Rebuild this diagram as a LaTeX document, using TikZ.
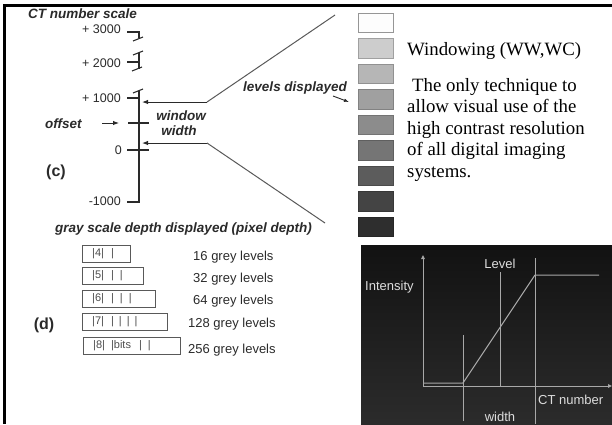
\documentclass[tikz,border=0pt]{standalone}
\usepackage{fontspec}
\setmainfont{Liberation Serif}
\setsansfont{Liberation Sans}
\usetikzlibrary{arrows.meta}
\definecolor{scan}{HTML}{2A2A2A}
\definecolor{glin}{HTML}{A8A8A8}
\definecolor{gtxt}{HTML}{DDDDDD}
\begin{document}
\begin{tikzpicture}[x=1pt,y=-1pt,
  bi/.style={font=\sffamily\bfseries\itshape\fontsize{13.5}{16}\selectfont, inner sep=0pt, text=scan},
  num/.style={font=\sffamily\fontsize{12.5}{14}\selectfont, inner sep=0pt, text=scan},
  plabel/.style={font=\sffamily\bfseries\fontsize{16}{18}\selectfont, inner sep=0pt, text=scan},
  lvl/.style={font=\sffamily\fontsize{13}{15}\selectfont, inner sep=0pt, text=scan, anchor=west},
  bits/.style={font=\sffamily\fontsize{11}{13}\selectfont, inner sep=0pt, text=black!70, anchor=west},
  pbox/.style={draw=black!65, line width=1pt, minimum height=17pt, inner sep=0pt, anchor=north west},
  sc/.style={draw=scan, line width=1.1pt},
  arr/.style={draw=scan, line width=1pt, -{Latex[length=6pt,width=4.5pt]}},
  ln/.style={draw=black!65, line width=1pt},
  serif/.style={font=\rmfamily\fontsize{18.8}{21}\selectfont, inner sep=0pt, anchor=base west},
  gl/.style={draw=glin, line width=1pt},
  gt/.style={font=\sffamily\fontsize{13}{15}\selectfont, inner sep=0pt, text=gtxt},
  gbox/.style={minimum width=35pt, minimum height=19.5pt, inner sep=0pt, line width=1pt}
]
\useasboundingbox (0,0) rectangle (612,424);
\draw[line width=3pt] (3,5.5) -- (612,5.5);
\draw[line width=3pt] (4.5,4) -- (4.5,424);

% ---- (c) CT number scale
\node[bi, anchor=base west] (title) at (28,18) {CT number scale};
\node[num, anchor=base east] (n3) at (121,33) {+ 3000};
\node[num, anchor=base east] (n2) at (121,67) {+ 2000};
\node[num, anchor=base east] (n1) at (121,102) {+ 1000};
\node[num, anchor=base east] (n0) at (122,154) {0};
\node[num, anchor=base east] (nm) at (121,205) {-1000};
\draw[sc] (127,32) -- (139,32) -- (139,38);
\draw[sc] (133,41) -- (143,37);
\draw[sc] (133,55) -- (143,51);
\draw[sc] (139,53) -- (139,69);
\draw[sc] (127,62) -- (139,62);
\draw[sc] (132,71) -- (142,67);
\draw[sc] (133,93) -- (143,89);
\coordinate (axtop) at (139,91);
\coordinate (axbot) at (139,202);
\draw[sc] (axtop) -- (axbot) -- (127,202);
\draw[sc] (127,98) -- (139,98);
\draw[sc] (128,123) -- (149,123);
\draw[sc] (127,150) -- (149,150);

\node[bi, anchor=base west] (offset) at (45,128) {offset};
\coordinate (offA) at (102,123);
\coordinate (offB) at (119,123);
\draw[arr] (offA) -- (offB);

\node[bi, anchor=base] (win1) at (181,120) {window};
\node[bi, anchor=base] (win2) at (179,135) {width};
\coordinate (wu) at (207,102);
\coordinate (wuTip) at (142,102);
\coordinate (wl) at (207,143);
\coordinate (wlTip) at (142,143);
\coordinate (fanTop) at (335,15);
\coordinate (fanBot) at (325,223);
\draw[arr] (wu) -- (wuTip);
\draw[arr] (wl) -- (wlTip);
\draw[ln] (wu) -- (fanTop);
\draw[ln] (wl) -- (fanBot);

\node[plabel] (c) at (56,172) {(c)};

\node[bi, anchor=base] (levels) at (295,91) {levels displayed};
\coordinate (lvA) at (333,96);
\coordinate (lvB) at (349,102);
\draw[draw=scan, line width=0.9pt, -{Latex[length=5pt,width=3.5pt]}] (lvA) -- (lvB);

% gray level boxes
\foreach \i/\g/\b in {0/253/150,1/205/160,2/182/145,3/160/130,4/140/115,5/117/95,6/92/75,7/68/55,8/46/38} {
  \node[gbox, fill={rgb,255:red,\g;green,\g;blue,\g}, draw={rgb,255:red,\b;green,\b;blue,\b}] (lv\i) at (375.5,{22.75+25.5*\i}) {};
}

% right text
\node[serif] (t0) at (407,55) {Windowing (WW,WC)};
\node[serif] (t1) at (412,91) {The only technique to};
\node[serif] (t2) at (407,112.6) {allow visual use of the};
\node[serif] (t3) at (407,134.2) {high contrast resolution};
\node[serif] (t4) at (407,155.8) {of all digital imaging};
\node[serif] (t5) at (407,177.4) {systems.};

% ---- (d) pixel depth
\node[bi, anchor=base west] (gsd) at (55,232) {gray scale depth displayed (pixel depth)};
\node[pbox, minimum width=48pt] (b4) at (82,245) {};
\node[pbox, minimum width=61pt] (b5) at (82,267) {};
\node[pbox, minimum width=73pt] (b6) at (82,290) {};
\node[pbox, minimum width=85pt] (b7) at (82,313) {};
\node[pbox, minimum width=97pt] (b8) at (83,337) {};
\node[bits] (x4) at (92,253.5) {|4|\hspace{7pt}|};
\node[bits] (x5) at (92,275.5) {|5|\hspace{7pt}|\hspace{6pt}|};
\node[bits] (x6) at (92,298.5) {|6|\hspace{7pt}|\hspace{6pt}|\hspace{6pt}|};
\node[bits] (x7) at (92,321.5) {|7|\hspace{7pt}|\hspace{5pt}|\hspace{5pt}|\hspace{5pt}|};
\node[bits] (x8) at (93,345.5) {|8|\hspace{6pt}|bits\hspace{8pt}|\hspace{6pt}|};
\node[lvl] (l4) at (193,257) {16 grey levels};
\node[lvl] (l5) at (193,279) {32 grey levels};
\node[lvl] (l6) at (193,301) {64 grey levels};
\node[lvl] (l7) at (188,324) {128 grey levels};
\node[lvl] (l8) at (188,350) {256 grey levels};
\node[plabel] (d) at (44,325) {(d)};

% ---- dark window graph
\shade[top color=black!93, bottom color=black!83] (361,245) rectangle (612,424);
\coordinate (O) at (423,386);
\coordinate (yTip) at (423,255);
\coordinate (xTip) at (612,386);
\draw[gl, -{Triangle[length=4pt,width=3.5pt]}] (O) ++(0,1) -- (yTip);
\draw[gl, -{Triangle[length=4pt,width=3.5pt]}] (O) -- (xTip);
\coordinate (lo0) at (423,383);
\coordinate (lo1) at (463,383);
\coordinate (hi0) at (535,275);
\coordinate (hi1) at (599,275);
\draw[gl] (lo0) -- (lo1) -- (hi0) -- (hi1);
\draw[gl] (463,335) -- (463,421);
\draw[gl] (500,272) -- (500,386);
\draw[gl] (535,258) -- (535,424);
\node[gt] (level) at (500,264) {Level};
\node[gt, anchor=west] (inten) at (365,287) {Intensity};
\node[gt, anchor=west] (ctn) at (538,400) {CT number};
\node[gt] (wid) at (500,416.5) {width};
\end{tikzpicture}
\end{document}
